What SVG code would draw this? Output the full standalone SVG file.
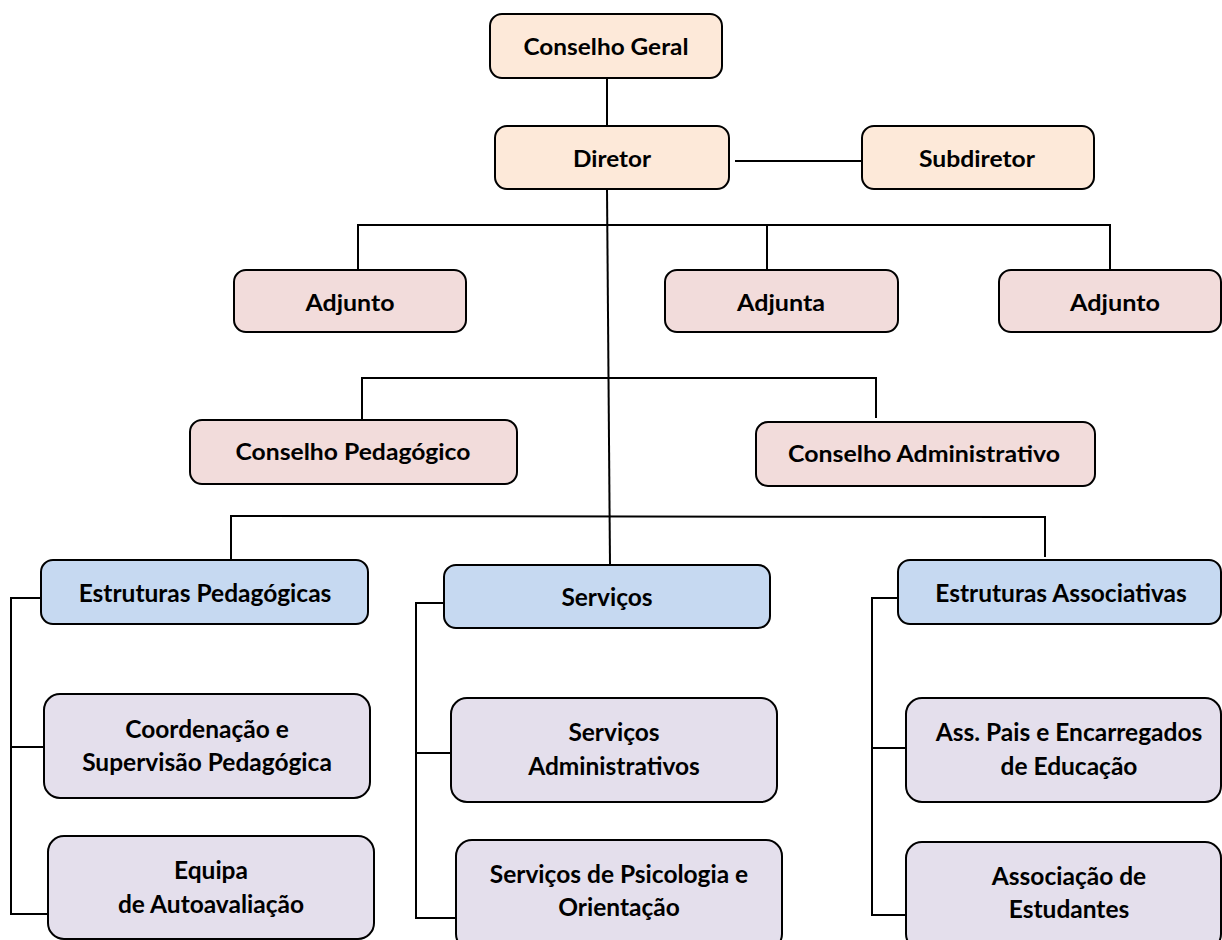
<svg xmlns="http://www.w3.org/2000/svg" width="1222" height="940" viewBox="0 0 1222 940">
<style>
.box{stroke:#000;stroke-width:2;}
.peach{fill:#FDE9D9;}
.pink{fill:#F2DCDB;}
.blue{fill:#C6D9F1;}
.lav{fill:#E4DFEC;}
text{font-family:Lato,"Liberation Sans",sans-serif;font-weight:bold;font-size:24.5px;fill:#000;text-anchor:middle;dominant-baseline:central;}
text.t{font-size:23px;}
.con{stroke:#000;stroke-width:2;fill:none;}
</style>
<rect width="1222" height="940" fill="#fff"/>
<g id="connectors">
<line class="con" x1="607" y1="78" x2="607" y2="126"/>
<line class="con" x1="735" y1="161" x2="862" y2="161"/>
<line class="con" x1="607" y1="189" x2="610" y2="565"/>
<polyline class="con" points="358,270 358,225 1110,225 1110,272"/>
<line class="con" x1="767" y1="225" x2="767" y2="270"/>
<polyline class="con" points="362,420 362,378 876,378 876,418"/>
<polyline class="con" points="231,560 231,516 1045,517 1045,557"/>
<polyline class="con" points="41,598 11,598 11,914 48,914"/>
<line class="con" x1="11" y1="747" x2="44" y2="747"/>
<polyline class="con" points="444,603 416,603 416,918 456,918"/>
<line class="con" x1="416" y1="753" x2="451" y2="753"/>
<polyline class="con" points="898,598 872,598 872,915 906,915"/>
<line class="con" x1="872" y1="748" x2="906" y2="748"/>
</g>
<g id="conselho-geral"><rect class="box peach" x="490" y="14" width="232" height="64" rx="12"/><text class="t" x="606" y="46" textLength="165" lengthAdjust="spacingAndGlyphs">Conselho Geral</text></g>
<g id="diretor"><rect class="box peach" x="495" y="126" width="234" height="63" rx="12"/><text class="t" x="612" y="158" textLength="78" lengthAdjust="spacingAndGlyphs">Diretor</text></g>
<g id="subdiretor"><rect class="box peach" x="862" y="126" width="232" height="63" rx="12"/><text class="t" x="977" y="158" textLength="116" lengthAdjust="spacingAndGlyphs">Subdiretor</text></g>
<g id="adjunto1"><rect class="box pink" x="234" y="270" width="232" height="62" rx="12"/><text class="t" x="350" y="302" textLength="89" lengthAdjust="spacingAndGlyphs">Adjunto</text></g>
<g id="adjunta"><rect class="box pink" x="665" y="270" width="233" height="62" rx="12"/><text class="t" x="781" y="302" textLength="88" lengthAdjust="spacingAndGlyphs">Adjunta</text></g>
<g id="adjunto2"><rect class="box pink" x="999" y="270" width="222" height="62" rx="12"/><text class="t" x="1115" y="302" textLength="90" lengthAdjust="spacingAndGlyphs">Adjunto</text></g>
<g id="conselho-pedagogico"><rect class="box pink" x="190" y="420" width="327" height="64" rx="12"/><text class="t" x="353" y="451" textLength="235" lengthAdjust="spacingAndGlyphs">Conselho Pedagógico</text></g>
<g id="conselho-administrativo"><rect class="box pink" x="756" y="422" width="339" height="64" rx="12"/><text class="t" x="924" y="453" textLength="272" lengthAdjust="spacingAndGlyphs">Conselho Administrativo</text></g>
<g id="estruturas-pedagogicas"><rect class="box blue" x="41" y="560" width="327" height="64" rx="12"/><text x="205" y="592">Estruturas Pedagógicas</text></g>
<g id="servicos"><rect class="box blue" x="444" y="565" width="326" height="63" rx="12"/><text x="607" y="596">Serviços</text></g>
<g id="estruturas-associativas"><rect class="box blue" x="898" y="560" width="323" height="64" rx="12"/><text x="1061" y="592">Estruturas Associativas</text></g>
<g id="coordenacao"><rect class="box lav" x="44" y="694" width="326" height="104" rx="16"/><text x="207" y="728">Coordenação e</text><text x="207" y="761">Supervisão Pedagógica</text></g>
<g id="equipa"><rect class="box lav" x="48" y="836" width="326" height="103" rx="16"/><text x="211" y="869">Equipa</text><text x="211" y="903">de Autoavaliação</text></g>
<g id="servicos-administrativos"><rect class="box lav" x="451" y="698" width="326" height="104" rx="16"/><text x="614" y="731">Serviços</text><text x="614" y="765">Administrativos</text></g>
<g id="servicos-psicologia"><rect class="box lav" x="456" y="840" width="326" height="110" rx="16"/><text x="619" y="873">Serviços de Psicologia e</text><text x="619" y="906">Orientação</text></g>
<g id="ass-pais"><rect class="box lav" x="906" y="698" width="315" height="104" rx="16"/><text x="1069" y="731">Ass. Pais e Encarregados</text><text x="1069" y="765">de Educação</text></g>
<g id="associacao-estudantes"><rect class="box lav" x="906" y="842" width="315" height="108" rx="16"/><text x="1069" y="875">Associação de</text><text x="1069" y="908">Estudantes</text></g>
</svg>
